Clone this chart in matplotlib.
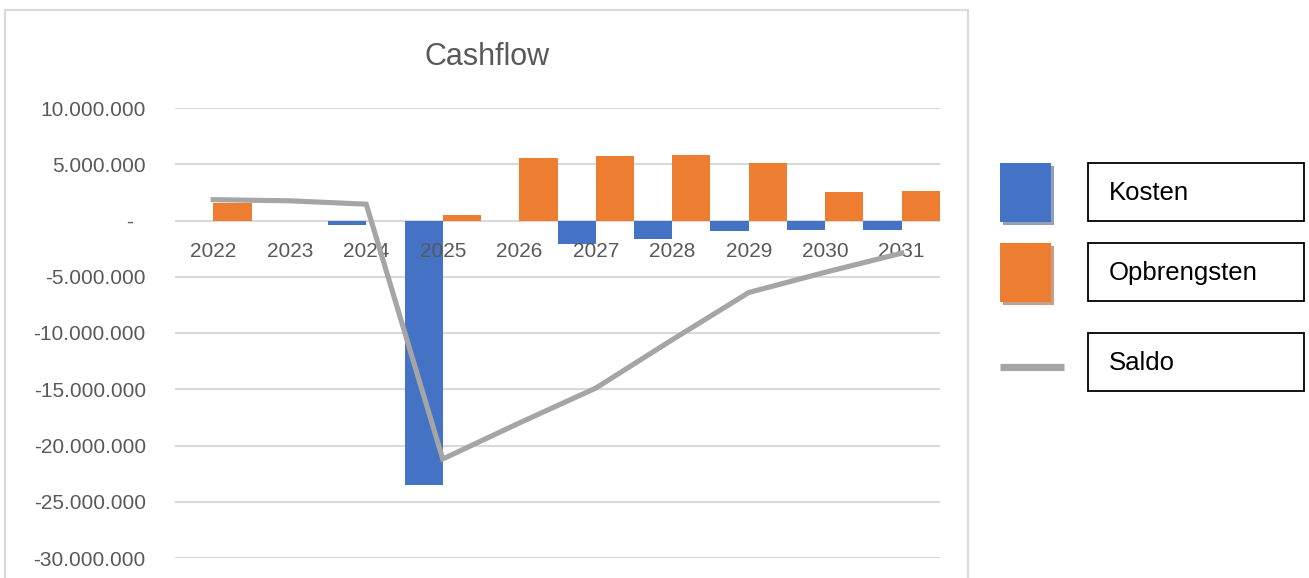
import matplotlib
matplotlib.use('Agg')
import matplotlib.pyplot as plt
from matplotlib.patches import Rectangle
from matplotlib.lines import Line2D
from matplotlib.ticker import FuncFormatter

plt.rcParams['font.family'] = ['Liberation Sans', 'DejaVu Sans']

# data (in euro)
years = ['2022', '2023', '2024', '2025', '2026', '2027', '2028', '2029', '2030', '2031']
kosten = [0, 0, -400000, -23500000, 0, -2100000, -1600000, -900000, -800000, -800000]
opbrengsten = [1600000, 0, 0, 500000, 5600000, 5700000, 5800000, 5100000, 2500000, 2600000]
saldo = [1850000, 1750000, 1450000, -21200000, -18000000, -14900000, -10600000, -6400000, -4600000, -2900000]

yticks = [10000000, 5000000, 0, -5000000, -10000000, -15000000, -20000000, -25000000, -30000000]

blue = '#4472c4'
orange = '#ed7d31'
grey = '#a5a5a5'
txt = '#595959'

W, H = 1309, 578
fig = plt.figure(figsize=(W / 100, H / 100), dpi=100)

# chart area border
fig.patches.append(Rectangle((5 / W, -0.1), 963 / W, 1 - 10 / H + 0.1, transform=fig.transFigure,
                             fill=False, edgecolor='#d9d9d9', lw=1.5))

ax = fig.add_axes([175 / W, 1 - 558 / H, 765 / W, 450 / H])
x = list(range(len(years)))
ax.bar([i - 0.25 for i in x], kosten, width=0.5, color=blue, lw=0, zorder=2)
ax.bar([i + 0.25 for i in x], opbrengsten, width=0.5, color=orange, lw=0, zorder=2)
ax.plot(x, saldo, color=grey, lw=3.7, zorder=4, solid_joinstyle='miter')

ax.set_xlim(-0.5, 9.5)
ax.set_ylim(-30000000, 10000000)
ax.set_yticks(yticks)


def fmt(v, pos):
    if v == 0:
        return '-  '
    return f'{int(v):,}'.replace(',', '.')


ax.yaxis.set_major_formatter(FuncFormatter(fmt))
ax.tick_params(axis='y', length=0, pad=21, labelsize=15, labelcolor=txt)
ax.set_xticks([])
ax.grid(axis='y', color='#d9d9d9', lw=1.5, zorder=0)
ax.set_axisbelow(True)
for s in ax.spines.values():
    s.set_visible(False)

for i, y in enumerate(years):
    ax.annotate(y, (i, 0), xytext=(0, -22), textcoords='offset points', ha='center', va='center',
                fontsize=15, color=txt, zorder=3)

fig.text(487 / W, 1 - 57 / H, 'Cashflow', ha='center', va='center', fontsize=22, color=txt)

# legend drawn by hand
def box(x0, y0, x1, y1, **kw):
    fig.patches.append(Rectangle((x0 / W, 1 - y1 / H), (x1 - x0) / W, (y1 - y0) / H,
                                 transform=fig.transFigure, **kw))


box(1003, 166, 1054, 225, color='#8fa0b8', lw=0)
box(1000, 163, 1051, 222, color=blue, lw=0)
box(1003, 246, 1054, 305, color='#c4a08a', lw=0)
box(1000, 243, 1051, 302, color=orange, lw=0)
fig.lines.append(Line2D([1000 / W, 1064 / W], [1 - 367 / H, 1 - 367 / H], transform=fig.transFigure,
                        color=grey, lw=5.2, solid_capstyle='butt'))

labels = ['Kosten', 'Opbrengsten', 'Saldo']
tops = [163, 243, 333]
for lab, t in zip(labels, tops):
    box(1088, t, 1304, t + 58, fill=False, edgecolor='black', lw=1.3)
    fig.text(1109 / W, 1 - (t + 30) / H, lab, ha='left', va='center', fontsize=18.5, color='black')

fig.savefig('out.png', dpi=100)
